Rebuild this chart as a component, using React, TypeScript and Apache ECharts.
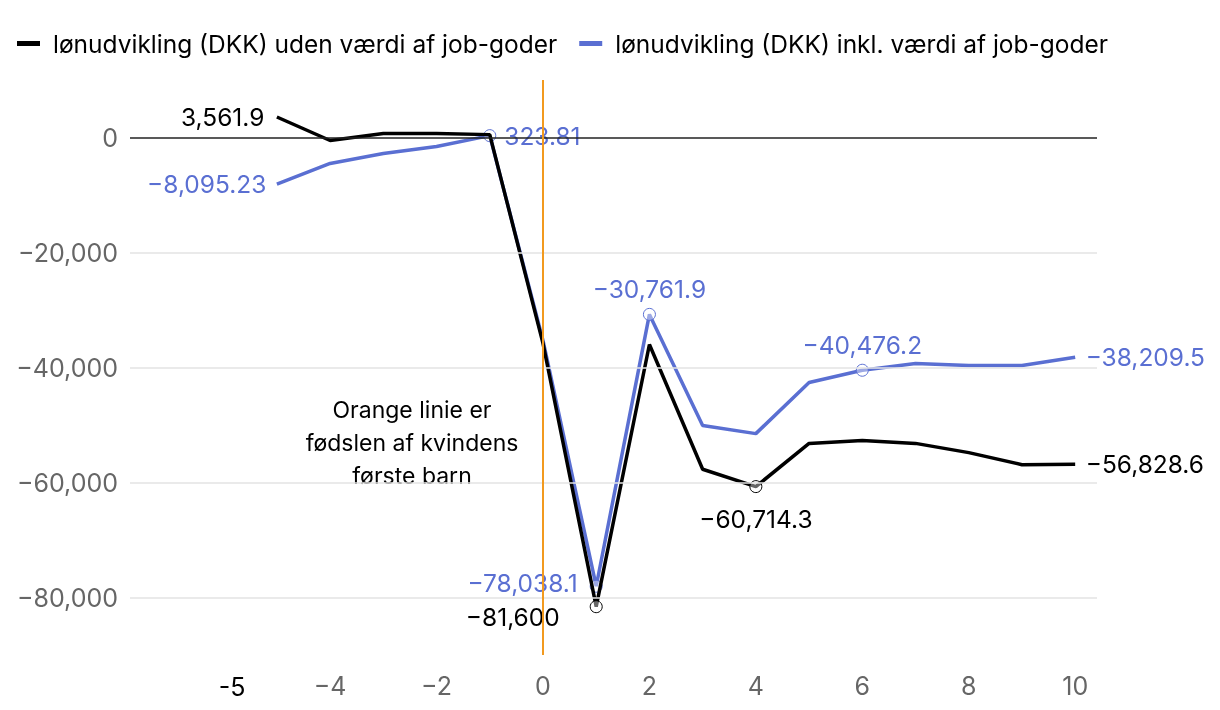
import React, { useEffect, useRef } from "react";
import * as echarts from "echarts";

const xValues = [-5, -4, -3, -2, -1, 0, 1, 2, 3, 4, 5, 6, 7, 8, 9, 10];
const withoutBenefits = [3561.9, -520, 700, 700, 500, -35800, -81600, -36000, -57700, -60714.3, -53200, -52700, -53200, -54800, -56900, -56828.6];
const withBenefits = [-8095.23, -4520, -2780, -1565, 323.81, -35300, -78038.1, -30761.9, -50100, -51500, -42600, -40476.2, -39300, -39650, -39650, -38209.5];
const seriesNames = ["lønudvikling (DKK) uden værdi af job-goder", "lønudvikling (DKK) inkl. værdi af job-goder"];
const xTickLabels = [-4, -2, 0, 2, 4, 6, 8, 10];
const yTickLabels = [0, -20000, -40000, -60000, -80000];
const gridValues = [-20000, -40000, -60000, -80000];
const birthX = 0;
const annotation = "Orange linie er\nfødslen af kvindens\nførste barn";
const extraXLabel = "-5";

const BLACK = "#000000";
const BLUE = "#5a6fd2";
const FONT = "Inter";

const fmt = (v: number) => {
  const s = v.toLocaleString("en-US", { maximumFractionDigits: 2 });
  return s.replace("-", "\u2212");
};

const blackLabels: Record<number, any> = {
  0: { position: "left", distance: 12, symbol: false },
  6: { position: "left", distance: 30, offset: [0, 10], symbol: true },
  9: { position: "bottom", distance: 13, symbol: true },
  15: { position: "right", distance: 10, symbol: false },
};
const blueLabels: Record<number, any> = {
  0: { position: "left", distance: 10, symbol: false },
  4: { position: "right", distance: 8, symbol: true },
  6: { position: "left", distance: 12, offset: [0, -3], symbol: true },
  7: { position: "top", distance: 6, symbol: true },
  11: { position: "top", distance: 6, symbol: true },
  15: { position: "right", distance: 10, symbol: false },
};

function buildData(values: number[], labels: Record<number, any>, color: string) {
  return values.map((v, i) => {
    const cfg = labels[i];
    if (!cfg) return { value: [xValues[i], v], symbol: "none", label: { show: false } };
    return {
      value: [xValues[i], v],
      symbol: "circle",
      symbolSize: cfg.symbol ? 12 : 1,
      itemStyle: cfg.symbol
        ? { color: "rgba(255,255,255,0.4)", borderColor: color, borderWidth: 1 }
        : { color: "transparent", borderColor: "transparent", borderWidth: 0 },
      label: {
        show: true,
        position: cfg.position,
        distance: cfg.distance,
        offset: cfg.offset || [0, 0],
        formatter: () => fmt(v),
        color: color,
        fontSize: 24.5,
        fontFamily: FONT,
      },
    };
  });
}

export default function App() {
  const ref = useRef<HTMLDivElement>(null);
  useEffect(() => {
    if (!ref.current) return;
    const chart = echarts.init(ref.current, null, { renderer: "svg" });
    chart.setOption({
      animation: false,
      textStyle: { fontFamily: FONT },
      legend: {
        left: 12,
        top: 26,
        icon: "rect",
        itemWidth: 23,
        itemHeight: 5,
        itemGap: 22,
        textStyle: { fontSize: 24.5, color: "#000", fontFamily: FONT, padding: [0, 0, 0, 8] },
        data: seriesNames,
      },
      grid: { left: 130, right: 123, top: 80, bottom: 55 },
      xAxis: {
        type: "value",
        min: -7.76,
        max: 10.41,
        axisLine: { show: false },
        axisTick: { show: false },
        splitLine: { show: false },
        axisLabel: {
          customValues: xTickLabels,
          formatter: (v: number) => String(v).replace("-", "\u2212"),
          color: "#666",
          fontSize: 25,
          margin: 18,
          fontFamily: FONT,
        },
      },
      yAxis: {
        type: "value",
        min: -90000,
        max: 10000,
        axisLine: { show: false },
        axisTick: { show: false },
        splitLine: { show: false },
        axisLabel: {
          customValues: yTickLabels,
          formatter: (v: number) => fmt(v),
          color: "#666",
          fontSize: 25,
          margin: 12,
          fontFamily: FONT,
        },
      },
      graphic: [
        {
          type: "text",
          x: 412,
          y: 393,
          style: {
            text: annotation,
            align: "center",
            fontSize: 23,
            lineHeight: 33,
            fill: "#000",
            fontFamily: FONT,
          },
        },
        {
          type: "text",
          x: 232,
          y: 687,
          style: {
            text: extraXLabel,
            align: "center",
            verticalAlign: "middle",
            fontSize: 25,
            fill: "#000",
            fontFamily: FONT,
          },
        },
      ],
      series: [
        {
          name: "grid",
          type: "line",
          data: [],
          silent: true,
          z: 1,
          markLine: {
            silent: true,
            symbol: "none",
            label: { show: false },
            data: [
              ...gridValues.map((g) => ({ yAxis: g, lineStyle: { color: "#e3e3e3", width: 1.5, type: "solid" } })),
              { yAxis: 0, lineStyle: { color: "#222", width: 1.5, type: "solid" } },
              { xAxis: birthX, lineStyle: { color: "#f29a1f", width: 2, type: "solid" } },
            ],
          },
        },
        {
          name: seriesNames[0],
          type: "line",
          color: BLACK,
          z: 3,
          lineStyle: { width: 3.5, color: BLACK },
          showSymbol: true,
          data: buildData(withoutBenefits, blackLabels, BLACK),
        },
        {
          name: seriesNames[1],
          type: "line",
          color: BLUE,
          z: 2,
          lineStyle: { width: 3.5, color: BLUE },
          showSymbol: true,
          data: buildData(withBenefits, blueLabels, BLUE),
        },
      ],
    });
    return () => chart.dispose();
  }, []);
  return <div ref={ref} style={{ position: "fixed", left: 0, top: 0, width: 1220, height: 710 }} />;
}
